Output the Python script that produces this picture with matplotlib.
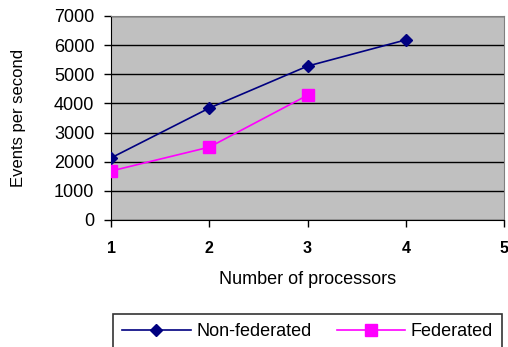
import matplotlib
matplotlib.use("Agg")
import matplotlib.pyplot as plt

plt.rcParams['font.family'] = ['Liberation Sans', 'DejaVu Sans']

processors = [1, 2, 3, 4]
non_federated = [2130, 3840, 5280, 6180]
fed_processors = [1, 2, 3]
federated = [1680, 2500, 4280]
x_ticks = [1, 2, 3, 4, 5]
y_ticks = [0, 1000, 2000, 3000, 4000, 5000, 6000, 7000]

fig = plt.figure(figsize=(5.08, 3.47), dpi=100)
ax = fig.add_axes([111/508, 1 - 220/347, (504-111)/508, (220-16)/347])
ax.set_facecolor('#c0c0c0')

ax.plot(processors, non_federated, color='#000080', marker='D', markersize=6,
        linewidth=1.2, label='Non-federated', zorder=3)
ax.plot(fed_processors, federated, color='#ff00ff', marker='s', markersize=8,
        linewidth=1.2, label='Federated', zorder=3)

ax.set_xlim(1, 5)
ax.set_ylim(0, 7000)
ax.set_xticks(x_ticks)
ax.set_yticks(y_ticks)
ax.set_xticklabels([str(v) for v in x_ticks], fontweight='bold', fontsize=11.5)
ax.set_yticklabels([str(v) for v in y_ticks], fontsize=13)
ax.yaxis.grid(True, color='black', linewidth=1.0)
ax.set_axisbelow(True)
ax.tick_params(axis='both', direction='out', length=5, width=1, color='black')
ax.tick_params(axis='x', pad=10)
ax.tick_params(axis='y', pad=7)

for side in ['top', 'right']:
    ax.spines[side].set_color('#808080')
for side in ['left', 'bottom']:
    ax.spines[side].set_color('black')

ax.set_xlabel('Number of processors', fontsize=13, labelpad=11)
ax.set_ylabel('Events per second', fontsize=12, labelpad=20)

leg = ax.legend(loc='upper center', bbox_to_anchor=(0.5, -0.46), ncol=2,
                fontsize=13, frameon=True, fancybox=False, edgecolor='black',
                handlelength=3.8, handletextpad=0.3, columnspacing=1.4,
                borderpad=0.5, borderaxespad=0)
leg.get_frame().set_linewidth(1.2)

fig.savefig('out.png', dpi=100)
